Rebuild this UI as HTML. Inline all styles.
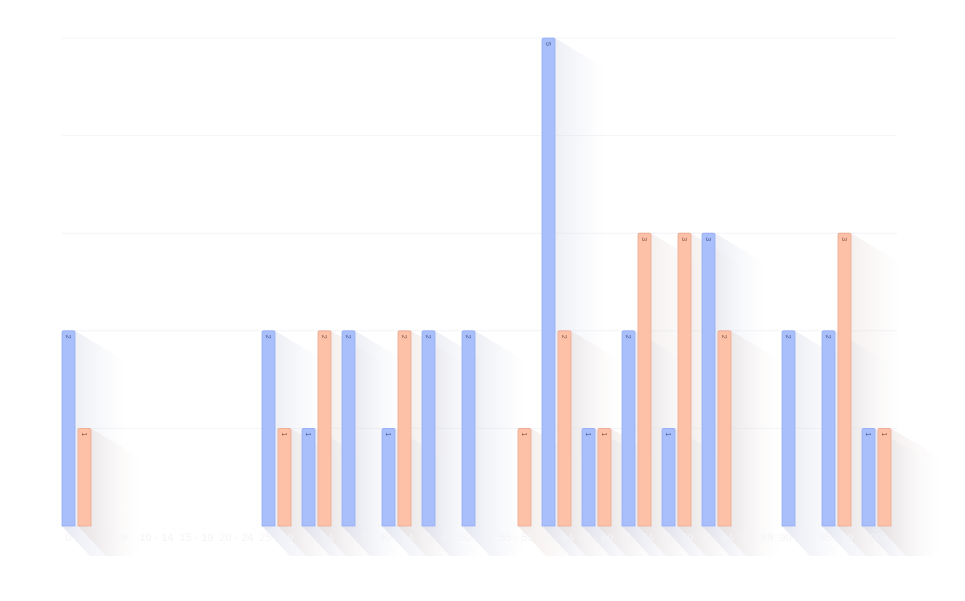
<!DOCTYPE html>
<html><head><meta charset="utf-8"><style>
html,body{margin:0;padding:0;background:#fff;width:965px;height:601px;overflow:hidden}
svg{display:block;font-family:"Liberation Sans",sans-serif}
</style></head><body>
<svg id="chart" width="965" height="601" viewBox="0 0 965 601">
<defs>
<linearGradient id="shb" x1="0" y1="0" x2="1" y2="0"><stop offset="0" stop-color="#c8cde0" stop-opacity="0.45"/><stop offset="1" stop-color="#dfe3f0" stop-opacity="0"/></linearGradient>
<linearGradient id="sho" x1="0" y1="0" x2="1" y2="0"><stop offset="0" stop-color="#ddd0cc" stop-opacity="0.45"/><stop offset="1" stop-color="#ece4e0" stop-opacity="0"/></linearGradient>
</defs>
<g id="grid"></g>
<g id="shadows"></g>
<g id="bars"></g>
<g id="xlabels"></g>
</svg>
<script>
const categories = ["0 - 4","5 - 9","10 - 14","15 - 19","20 - 24","25 - 29","30 - 34","35 - 39","40 - 44","45 - 49","50 - 54","55 - 59","60 - 64","65 - 69","70 - 74","75 - 79","80 - 84","85 - 89","90 - 94","95 - 99","100+"];
const seriesA = [2,0,0,0,0,2,1,2,1,2,2,0,5,1,2,1,3,0,2,2,1];
const seriesB = [1,0,0,0,0,1,2,0,2,0,0,1,2,1,3,3,2,0,0,3,1];
const yTicks = [0,1,2,3,4,5];

const NS="http://www.w3.org/2000/svg";
const x0=62, step=40, bw=13, gap=3, base=526, unit=97.6;
function xScale(i){return x0+i*step;}
function yScale(v){return base-v*unit;}
function mk(tag,attrs,parent){const e=document.createElementNS(NS,tag);for(const k in attrs)e.setAttribute(k,attrs[k]);parent.appendChild(e);return e;}
const grid=document.getElementById('grid'),sh=document.getElementById('shadows'),bars=document.getElementById('bars'),xl=document.getElementById('xlabels');
const right=xScale(categories.length-1)+2*bw+gap+6;
yTicks.forEach(t=>{
  const l=mk('line',{x1:x0,x2:right,y1:yScale(t),y2:yScale(t),stroke:t===0?'#ffffff':'#f3f4f8','stroke-width':1},grid);
  
  
});
function drawBar(i,v,k){
  if(v<=0)return;
  const x=xScale(i)+k*(bw+gap), y=yScale(v);
  const s=mk('polygon',{points:`${x},${y} ${x+bw},${y} ${x+bw+50},${y+30} ${x+bw+50},${base+30} ${x+bw+15},${base+30} ${x},${base}`,fill:k===0?'url(#shb)':'url(#sho)'},sh);
  
  
  const r=mk('path',{d:`M${x},${base} V${y+2} Q${x},${y} ${x+2},${y} H${x+bw-2} Q${x+bw},${y} ${x+bw},${y+2} V${base} Z`,fill:k===0?'#a9bffc':'#fdc1a8',stroke:k===0?'#94acf2':'#eaa990','stroke-width':0.8},bars);
  
  
  const t=mk('text',{x:0,y:0,transform:`translate(${x+4},${y+4}) rotate(90)`,'font-size':7,fill:k===0?'#4a5a90':'#8a5a48'},bars);
  t.textContent=v;
  
  
}
categories.forEach((c,i)=>{
  drawBar(i,seriesA[i],0);
  drawBar(i,seriesB[i],1);
  const t=mk('text',{x:xScale(i)+bw+gap/2,y:541,'text-anchor':'middle','font-size':11,fill:'#f4f4f6'},xl);
  t.textContent=c;
  
  
});
</script>
</body></html>
